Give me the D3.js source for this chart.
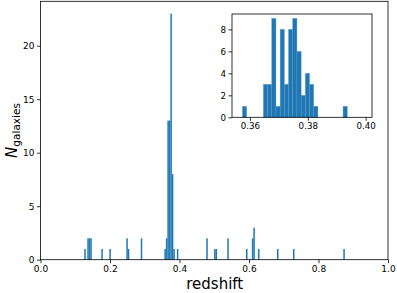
<!DOCTYPE html>
<html>
<head>
<meta charset="utf-8">
<script src="https://cdn.jsdelivr.net/npm/d3@7/dist/d3.min.js"></script>
<style>
  body { margin: 0; background: #fff; }
  svg { display: block; font-family: "DejaVu Sans", sans-serif; }
  .tick text { fill: #000; }
</style>
</head>
<body>
<svg id="chart" width="397" height="293"></svg>
<script>
// main histogram: bin start (redshift) and count, common bin width
const mainBinWidth = 0.0043;
const mainStarts = [0.126, 0.1347, 0.1390, 0.1433, 0.175, 0.198, 0.2470, 0.2513, 0.2885,
  0.3565, 0.3608, 0.3651, 0.3694, 0.3737, 0.3780, 0.3823, 0.3925,
  0.477, 0.4995, 0.5038, 0.5376, 0.5914, 0.6082, 0.6125, 0.626, 0.6806, 0.7266, 0.8714];
const mainCounts = [1, 2, 2, 2, 1, 1, 2, 1, 2,
  1, 2, 13, 13, 23, 8, 1, 1,
  2, 1, 1, 2, 1, 2, 3, 1, 1, 1, 1];
const mainXTicks = [0.0, 0.2, 0.4, 0.6, 0.8, 1.0];
const mainYTicks = [0, 5, 10, 15, 20];

// inset histogram around the cluster
const insetStart = 0.3574;
const insetBinWidth = 0.00145;
const insetCounts = [1, 0, 0, 0, 0, 3, 3, 9, 1, 8, 3, 8, 9, 6, 2, 4, 3, 1, 0, 0, 0, 0, 0, 0, 1];
const insetXTicks = [0.36, 0.38, 0.40];
const insetYTicks = [0, 2, 4, 6, 8];

const svg = d3.select('#chart');
const blue = '#1f77b4';

// ---- main axes
const m = {left: 40.5, right: 388, top: 1.3, bottom: 259.7};
const x = d3.scaleLinear().domain([0, 1]).range([m.left, m.right]);
const y = d3.scaleLinear().domain([0, 24.15]).range([m.bottom, m.top]);

const mainBins = mainStarts.map((s, i) => ({x0: s, x1: s + mainBinWidth, n: mainCounts[i]}));

svg.append('g')
  .selectAll('rect')
  .data(mainBins)
  .join('rect')
    .attr('x', d => x(d.x0))
    .attr('width', d => x(d.x1) - x(d.x0))
    .attr('y', d => y(d.n))
    .attr('height', d => y(0) - y(d.n))
    .attr('fill', blue);

svg.append('rect')
  .attr('x', m.left).attr('y', m.top)
  .attr('width', m.right - m.left).attr('height', m.bottom - m.top)
  .attr('fill', 'none').attr('stroke', '#000').attr('stroke-width', 0.8);

const xAxis = svg.append('g')
  .attr('transform', `translate(0,${m.bottom})`)
  .call(d3.axisBottom(x).tickValues(mainXTicks).tickFormat(d3.format('.1f')).tickSize(3.5).tickPadding(2.5));
const yAxis = svg.append('g')
  .attr('transform', `translate(${m.left},0)`)
  .call(d3.axisLeft(y).tickValues(mainYTicks).tickSize(3.5).tickPadding(2.5));

[xAxis, yAxis].forEach(a => {
  a.select('.domain').remove();
  a.selectAll('.tick line').attr('stroke', '#000').attr('stroke-width', 0.8);
  a.selectAll('.tick text').attr('font-size', 9).attr('font-family', '"DejaVu Sans", sans-serif');
});

svg.append('text')
  .attr('x', (m.left + m.right) / 2 + 0.5)
  .attr('y', 289)
  .attr('text-anchor', 'middle')
  .attr('font-size', 15)
  .text('redshift');

const ylab = svg.append('text')
  .attr('transform', `translate(17,${(m.top + m.bottom) / 2}) rotate(-90)`)
  .attr('text-anchor', 'middle');
ylab.append('tspan').attr('font-size', 15).attr('font-style', 'italic').text('N');
ylab.append('tspan').attr('font-size', 10.5).attr('dy', 3).text('galaxies');

// ---- inset axes
const n = {left: 232, right: 372, top: 14, bottom: 117.3};
const ix = d3.scaleLinear().domain([0.3538, 0.4022]).range([n.left, n.right]);
const iy = d3.scaleLinear().domain([0, 9.4]).range([n.bottom, n.top]);

const insetBins = insetCounts.map((c, i) => ({
  x0: insetStart + i * insetBinWidth,
  x1: insetStart + (i + 1) * insetBinWidth,
  n: c
})).filter(d => d.n > 0);

svg.append('rect')
  .attr('x', n.left).attr('y', n.top)
  .attr('width', n.right - n.left).attr('height', n.bottom - n.top)
  .attr('fill', '#fff');

svg.append('g')
  .selectAll('rect')
  .data(insetBins)
  .join('rect')
    .attr('x', d => ix(d.x0))
    .attr('width', d => ix(d.x1) - ix(d.x0))
    .attr('y', d => iy(d.n))
    .attr('height', d => iy(0) - iy(d.n))
    .attr('fill', blue)
    .attr('stroke', '#5b9bcb')
    .attr('stroke-width', 0.4);

svg.append('rect')
  .attr('x', n.left).attr('y', n.top)
  .attr('width', n.right - n.left).attr('height', n.bottom - n.top)
  .attr('fill', 'none').attr('stroke', '#000').attr('stroke-width', 0.8);

const ixAxis = svg.append('g')
  .attr('transform', `translate(0,${n.bottom})`)
  .call(d3.axisBottom(ix).tickValues(insetXTicks).tickFormat(d3.format('.2f')).tickSize(3.5).tickPadding(2.5));
const iyAxis = svg.append('g')
  .attr('transform', `translate(${n.left},0)`)
  .call(d3.axisLeft(iy).tickValues(insetYTicks).tickSize(3.5).tickPadding(2.5));

[ixAxis, iyAxis].forEach(a => {
  a.select('.domain').remove();
  a.selectAll('.tick line').attr('stroke', '#000').attr('stroke-width', 0.8);
  a.selectAll('.tick text').attr('font-size', 8.7).attr('font-family', '"DejaVu Sans", sans-serif');
});
</script>
</body>
</html>
